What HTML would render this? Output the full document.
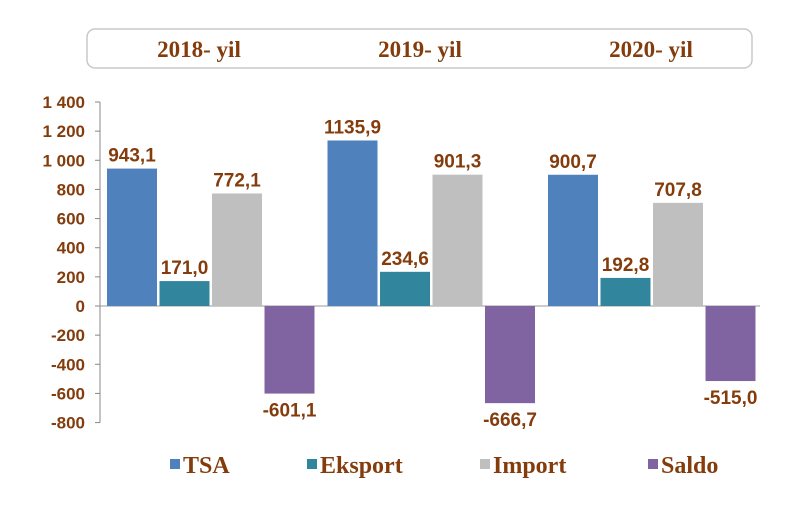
<!DOCTYPE html>
<html><head><meta charset="utf-8"><style>
body{margin:0;background:#fff;width:798px;height:505px;overflow:hidden}
svg text{font-weight:bold}
.s{font-family:"Liberation Sans",sans-serif}
.r{font-family:"Liberation Serif",serif}
</style></head><body>
<svg id="c" width="798" height="505">
<rect x="87" y="29" width="665" height="39" rx="8" fill="#fff" stroke="#c8c8c8" stroke-width="1.5"/>
</svg>
<script>
const years=["2018- yil","2019- yil","2020- yil"];
const series=["TSA","Eksport","Import","Saldo"];
const tsa=[943.1,1135.9,900.7];
const eksport=[171.0,234.6,192.8];
const importV=[772.1,901.3,707.8];
const saldo=[-601.1,-666.7,-515.0];
const ticks=[1400,1200,1000,800,600,400,200,0,-200,-400,-600,-800];
const colors=["#4f81bd","#31859c","#bfbfbf","#8064a2"];
const brown="#843c0c";
const svg=document.getElementById('c');
const NS="http://www.w3.org/2000/svg";
function y(v){return 306-v*(204/1400);}
function mk(t,a,txt){const e=document.createElementNS(NS,t);for(const k in a)e.setAttribute(k,a[k]);if(txt!==undefined)e.textContent=txt;svg.appendChild(e);return e;}
function fmt(v){return v.toFixed(1).replace('.',',');}
function tickFmt(v){const s=Math.abs(v)>=1000?(v<0?'-':'')+Math.floor(Math.abs(v)/1000)+' '+String(Math.abs(v)%1000).padStart(3,'0'):String(v);return s;}
const ax=mk('line',{x1:100,y1:y(1400),x2:100,y2:y(-800),stroke:'#888','stroke-width':1});


const xl=mk('line',{x1:100,y1:y(0),x2:760,y2:y(0),stroke:'#999','stroke-width':1});


ticks.forEach(t=>{
 const tm=mk('line',{x1:95,y1:y(t),x2:100,y2:y(t),stroke:'#888'});
 
 
 const tl=mk('text',{x:85,y:y(t)+6,'text-anchor':'end',class:'s','font-size':17,fill:brown},tickFmt(t));
 
 
});
const data=[tsa,eksport,importV,saldo];
years.forEach((yr,g)=>{
 const hx=[199,420,651][g];
 const h=mk('text',{x:hx,y:57,'text-anchor':'middle',class:'r','font-size':23,fill:brown},yr);
 
 
 const gx=100+g*220.5+7;
 data.forEach((arr,i)=>{
  const v=arr[g];const x=gx+i*52.5;
  const top=Math.min(y(v),y(0)),hh=Math.abs(y(v)-y(0));
  const b=mk('rect',{x:x,y:top,width:50,height:hh,fill:colors[i]});
  
  
  const ly=v>=0?y(v)-7:y(v)+23;
  const l=mk('text',{x:x+25,y:ly,'text-anchor':'middle',class:'s','font-size':19,fill:brown},fmt(v));
  
  
 });
});
const lx=[170,307,480,648];
series.forEach((s,i)=>{
 const m=mk('rect',{x:lx[i],y:459,width:10,height:10,fill:colors[i]});
 
 
 const t=mk('text',{x:lx[i]+13,y:473,class:'r','font-size':24,fill:brown},s);
 
 
});
</script>
</body></html>
